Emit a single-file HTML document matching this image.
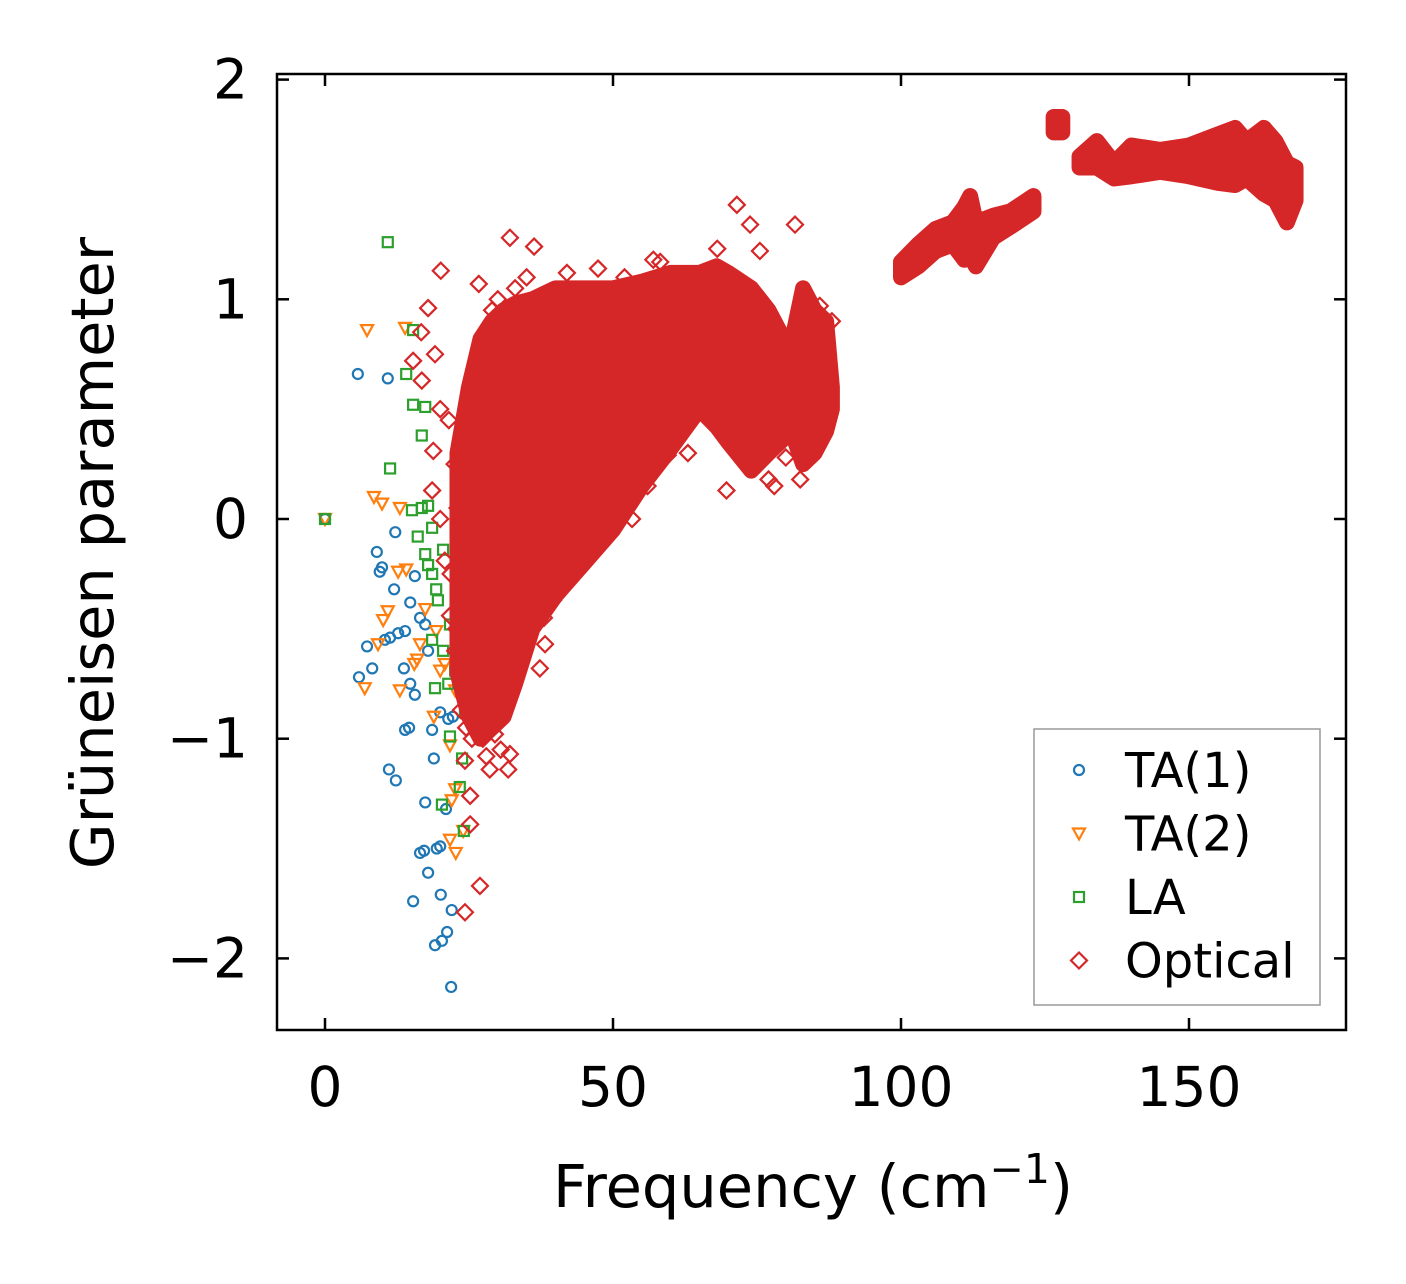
<!DOCTYPE html>
<html><head><meta charset="utf-8"><style>
body{margin:0;background:#fff}
svg text{font-family:"DejaVu Sans","Liberation Sans",sans-serif;fill:#000}
</style></head><body>
<svg id="chart" width="1406" height="1279" xmlns="http://www.w3.org/2000/svg">
<rect width="1406" height="1279" fill="#fff"/>
<g id="marks"></g>
<g id="axes"></g>
</svg>
<script>
const xTicks=[0,50,100,150];
const yTicks=[-2,-1,0,1,2];
const yTickLabels=["\u22122","\u22121","0","1","2"];
const ta1X=[0,5.7,10.9,9.0,9.5,9.9,12.0,12.2,7.3,8.2,5.9,10.4,11.3,12.7,13.9,13.7,14.8,14.8,15.6,14.6,13.9,11.1,12.3,17.4,17.9,18.6,18.9,20.0,21.4,22.2,17.4,21.0,20.0,19.4,16.5,17.2,17.9,15.3,20.1,19.1,20.3,21.2,22.0,21.9,15.6,16.5];
const ta1Y=[0,0.66,0.64,-0.15,-0.24,-0.22,-0.32,-0.06,-0.58,-0.68,-0.72,-0.55,-0.54,-0.52,-0.51,-0.68,-0.38,-0.75,-0.80,-0.95,-0.96,-1.14,-1.19,-0.48,-0.60,-0.96,-1.09,-0.88,-0.91,-0.90,-1.29,-1.32,-1.49,-1.50,-1.52,-1.51,-1.61,-1.74,-1.71,-1.94,-1.92,-1.88,-1.78,-2.13,-0.26,-0.45];
const ta2X=[0,7.3,8.5,9.9,13.0,12.7,14.1,10.9,10.1,9.2,6.9,13.0,15.5,16.0,17.4,16.5,19.3,20.0,20.8,22.6,18.9,21.7,22.6,22.0,21.7,22.7,24.0,13.9];
const ta2Y=[0,0.86,0.10,0.07,0.05,-0.24,-0.23,-0.42,-0.46,-0.57,-0.77,-0.78,-0.66,-0.64,-0.41,-0.57,-0.51,-0.69,-0.66,-0.78,-0.90,-1.03,-1.23,-1.28,-1.46,-1.52,-1.42,0.87];
const laX=[0,10.9,14.1,15.3,11.3,15.3,17.4,16.8,15.1,16.8,17.9,18.6,16.1,17.4,17.9,18.6,20.5,22.7,19.3,19.6,18.6,20.5,22.7,21.7,22.6,24.0,19.1,21.4,24.3,21.7,23.8,23.4,20.3,24.1];
const laY=[0,1.26,0.66,0.86,0.23,0.52,0.51,0.38,0.04,0.05,0.06,-0.04,-0.08,-0.16,-0.21,-0.25,-0.14,-0.25,-0.32,-0.37,-0.55,-0.60,-0.55,-0.48,-0.69,-0.69,-0.77,-0.75,-0.88,-0.99,-1.09,-1.22,-1.30,-1.42];
const optX=[20.1,17.9,16.7,15.3,16.8,19.1,20.0,18.8,18.6,20.0,20.8,21.7,22.6,23.6,24.3,25.2,25.2,26.9,24.3,26.7,32.1,36.3,27.4,28.6,31.8,32.1,37.3,38.2,39.6,44.8,47.7,53.3,59.5,69.7,75.5,73.8,71.5,81.6,82.5,84.7,85.9,68.1,58.2,47.4,30,33,35,42,52,21.5,22.5,23.0,21.8,22.8,23.5,24.5,25.5,26,27,29,30.5,28,29.5,34,38,43,48,56,63,77,78,80,86,87.5,88,66,72,57];
const optY=[1.13,0.96,0.85,0.72,0.63,0.75,0.50,0.31,0.13,0,-0.19,-0.44,-0.60,-0.87,-1.10,-1.26,-1.39,-1.67,-1.79,1.07,1.28,1.24,-1.00,-1.14,-1.14,-1.07,-0.68,-0.57,-0.37,-0.19,-0.12,0,0.29,0.13,1.22,1.34,1.43,1.34,0.18,0.54,0.97,1.23,1.17,1.14,1.0,1.05,1.1,1.12,1.1,0.45,0.25,0.05,-0.25,-0.5,-0.7,-0.95,-1.0,0.6,0.75,0.95,-1.05,-1.08,-0.98,-0.6,-0.45,-0.25,-0.1,0.15,0.3,0.18,0.15,0.28,0.45,0.55,0.9,0.95,0.7,1.18];
// dense optical regions: envelopes (x, upper, lower)
const blobX=[23,25,27,29,31,33,36,40,45,50,55,60,65,68,70,74,77,79,81,83,85,87,88];
const blobUp=[0.3,0.6,0.82,0.9,0.95,0.98,1.0,1.05,1.05,1.05,1.08,1.12,1.12,1.15,1.12,1.05,0.95,0.85,0.8,1.05,0.95,0.9,0.6];
const blobLo=[-0.7,-0.9,-1.0,-0.95,-0.9,-0.75,-0.5,-0.35,-0.2,-0.05,0.15,0.32,0.5,0.42,0.35,0.22,0.3,0.35,0.4,0.25,0.3,0.4,0.5];
const band2X=[100,103,106,109,111,112,113,116,119,123];
const band2Up=[1.17,1.25,1.32,1.35,1.42,1.47,1.35,1.38,1.4,1.47];
const band2Lo=[1.1,1.15,1.22,1.25,1.18,1.2,1.15,1.28,1.33,1.4];
const band3X=[126.5,128];
const band3Up=[1.83,1.83];
const band3Lo=[1.76,1.76];
const band4X=[131,134,137,140,145,150,155,158,160,163,165,167,168.5];
const band4Up=[1.65,1.72,1.62,1.7,1.68,1.7,1.75,1.78,1.72,1.78,1.72,1.62,1.6];
const band4Lo=[1.6,1.6,1.55,1.56,1.58,1.56,1.53,1.52,1.55,1.48,1.45,1.35,1.45];

const L=277,R=1346,T=74,B=1030;
const sx=v=>325+v*5.76;
const sy=v=>519-v*219.7;
const NS="http://www.w3.org/2000/svg";
const marks=document.getElementById('marks'),axes=document.getElementById('axes');
function mk(tag,attrs,parent){const e=document.createElementNS(NS,tag);for(const k in attrs)e.setAttribute(k,attrs[k]);parent.appendChild(e);return e;}
const C={ta1:'#1f77b4',ta2:'#ff7f0e',la:'#2ca02c',opt:'#d62728'};
function circ(x,y,p,c){return mk('circle',{cx:x,cy:y,r:5,fill:'none',stroke:c,'stroke-width':2.2},p);}
function tri(x,y,p,c){return mk('path',{d:`M${x-6},${y-5}L${x+6},${y-5}L${x},${y+6}Z`,fill:'none',stroke:c,'stroke-width':2.2},p);}
function sq(x,y,p,c){return mk('rect',{x:x-5,y:y-5,width:10,height:10,fill:'none',stroke:c,'stroke-width':2.2},p);}
function dia(x,y,p,c){return mk('path',{d:`M${x},${y-8}L${x+8},${y}L${x},${y+8}L${x-8},${y}Z`,fill:'none',stroke:c,'stroke-width':2.2},p);}
ta1X.forEach((v,i)=>{const e=circ(sx(v),sy(ta1Y[i]),marks,C.ta1);

});
ta2X.forEach((v,i)=>{const e=tri(sx(v),sy(ta2Y[i]),marks,C.ta2);

});
laX.forEach((v,i)=>{const e=sq(sx(v),sy(laY[i]),marks,C.la);

});
function band(xs,up,lo,name){
  let d='M'+xs.map((v,i)=>sx(v)+','+sy(up[i])).join('L');
  d+='L'+xs.slice().reverse().map((v,j)=>{const i=xs.length-1-j;return sx(v)+','+sy(lo[i]);}).join('L')+'Z';
  const e=mk('path',{d:d,fill:C.opt,stroke:C.opt,'stroke-width':16,'stroke-linejoin':'round'},marks);
  
  
}
band(blobX,blobUp,blobLo,'optical-dense-region');
band(band2X,band2Up,band2Lo,'optical-band-100-123');
band(band3X,band3Up,band3Lo,'optical-band-127');
band(band4X,band4Up,band4Lo,'optical-band-131-168');
optX.forEach((v,i)=>{const e=dia(sx(v),sy(optY[i]),marks,C.opt);

});
const fr=mk('rect',{x:L,y:T,width:R-L,height:B-T,fill:'none',stroke:'#000','stroke-width':2.5},axes);


xTicks.forEach(v=>{const x=sx(v);
 mk('line',{x1:x,y1:B,x2:x,y2:B-12,stroke:'#000','stroke-width':2.5},axes);
 mk('line',{x1:x,y1:T,x2:x,y2:T+12,stroke:'#000','stroke-width':2.5},axes);
 const t=mk('text',{x:x,y:1106,'font-size':55,'text-anchor':'middle'},axes);t.textContent=v;
 
 });
yTicks.forEach((v,i)=>{const y=sy(v);
 mk('line',{x1:L,y1:y,x2:L+12,y2:y,stroke:'#000','stroke-width':2.5},axes);
 mk('line',{x1:R,y1:y,x2:R-12,y2:y,stroke:'#000','stroke-width':2.5},axes);
 const t=mk('text',{x:248,y:y+19,'font-size':55,'text-anchor':'end'},axes);t.textContent=yTickLabels[i];
 
 });
const xt=mk('text',{x:813,y:1207,'font-size':59,'text-anchor':'middle'},axes);
xt.innerHTML='Frequency (cm<tspan dy="-24" font-size="41">\u22121</tspan><tspan dy="24">)</tspan>';


const yt=mk('text',{x:0,y:0,'font-size':59,'text-anchor':'middle',transform:'translate(113,553) rotate(-90)'},axes);
yt.textContent='Grüneisen parameter';


const lg=mk('g',{},axes);


mk('rect',{x:1034,y:729,width:286,height:276,fill:'#fff',stroke:'#999','stroke-width':1.5},lg);
const entries=[['TA(1)',circ,C.ta1],['TA(2)',tri,C.ta2],['LA',sq,C.la],['Optical',dia,C.opt]];
entries.forEach((en,i)=>{const y=770+i*63.5;en[1](1079,y,lg,en[2]);
 const t=mk('text',{x:1125,y:y+17,'font-size':48},lg);t.textContent=en[0];
 
 });
</script>
</body></html>
